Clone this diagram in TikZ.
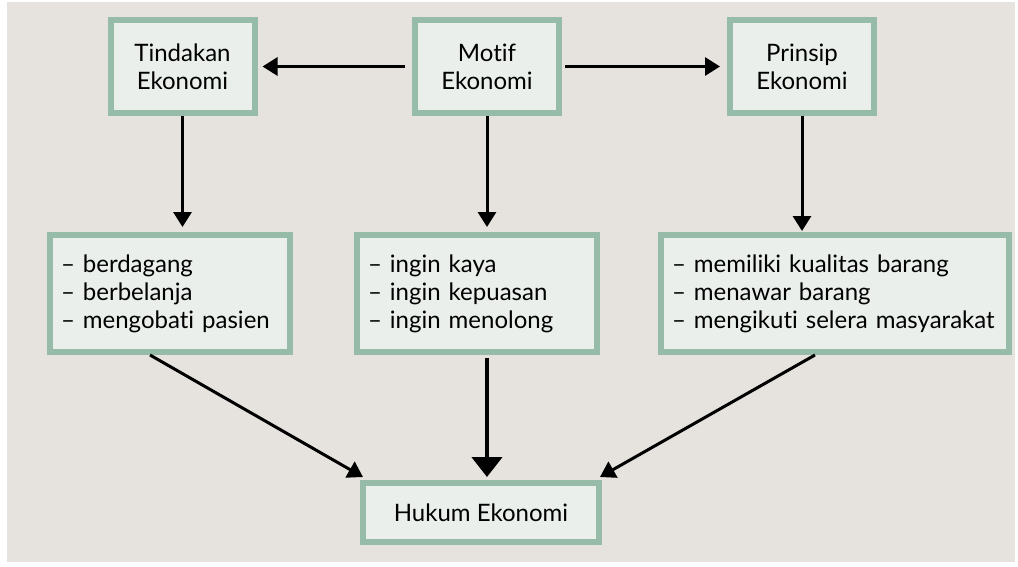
\documentclass[tikz,border=0pt]{standalone}
\usepackage{fontspec}
\setmainfont[Ligatures=NoCommon]{Lato}
\usetikzlibrary{calc}
\usetikzlibrary{arrows.meta, positioning}

\definecolor{bgGrey}{RGB}{230,227,222}
\definecolor{boxFill}{RGB}{234,239,236}
\definecolor{boxLine}{RGB}{150,187,168}

\tikzset{
    textfont/.style = {font=\fontsize{24}{28}\selectfont},
    topbox/.style   = {draw=boxLine, fill=boxFill, line width=6pt, textfont,
                       minimum width=144pt, minimum height=93pt, align=center},
    listbox/.style  = {draw=boxLine, fill=boxFill, line width=6pt, textfont,
                       minimum height=117pt, inner xsep=11pt, align=left},
    flow/.style     = {black, line width=3pt, -{Triangle[length=15pt,width=18pt]}},
    bigflow/.style  = {black, line width=4.5pt, -{Triangle[length=20pt,width=30pt]}},
}

\begin{document}
\begin{tikzpicture}[x=1pt, y=-1pt]
            \useasboundingbox               (0,0) rectangle (1018,566);             % page
            \fill       [bgGrey]            (7,2) rectangle (1015,562);             % background

            \node       [topbox]  (tindakan)  at (182.5,66.5) {Tindakan\\Ekonomi};   % left top box
            \node       [topbox]  (motif)     at (487,66.5)   {Motif\\Ekonomi};      % middle top box
            \node       [topbox]  (prinsip)   at (802,66.5)   {Prinsip\\Ekonomi};    % right top box

            \node       [listbox, text width=218pt] (tindakanList) at (170,293.5)
                        {-- berdagang\\-- berbelanja\\-- mengobati pasien};          % left list
            \node       [listbox, text width=218pt] (motifList)    at (477,293.5)
                        {-- ingin kaya\\-- ingin kepuasan\\-- ingin menolong};       % middle list
            \node       [listbox, text width=326pt] (prinsipList)  at (835,293.5)
                        {-- memiliki kualitas barang\\-- menawar barang\\-- mengikuti selera masyarakat}; % right list

            \node       [topbox, minimum width=236pt, minimum height=59pt]
                        (hukum) at (481,512.5) {Hukum Ekonomi};                      % bottom box

            \draw       [flow, shorten <=7pt, shorten >=5pt]  (motif) -- (tindakan);            % to Tindakan
            \draw       [flow, shorten <=3pt, shorten >=7pt]  (motif) -- (prinsip);             % to Prinsip
            \draw       [flow, shorten >=5pt]  (tindakan.south) -- (tindakan.south |- tindakanList.north); % down left
            \draw       [flow, shorten >=5pt]  (motif.south) -- (motif.south |- motifList.north);          % down middle
            \draw       [flow, shorten >=1pt]  (prinsip.south) -- (prinsip.south |- prinsipList.north);    % down right
            \draw       [flow]     ([xshift=-20pt]tindakanList.south) -- ([shift={(3pt,3pt)}]hukum.north west); % left to Hukum
            \draw       [flow]     ([xshift=-20pt]prinsipList.south)  -- ([shift={(-2pt,3pt)}]hukum.north east); % right to Hukum
            \draw       [bigflow, shorten <=3pt, shorten >=3pt] (motif.south |- motifList.south) -- (motif.south |- hukum.north); % middle to Hukum
        \end{tikzpicture}
\end{document}
